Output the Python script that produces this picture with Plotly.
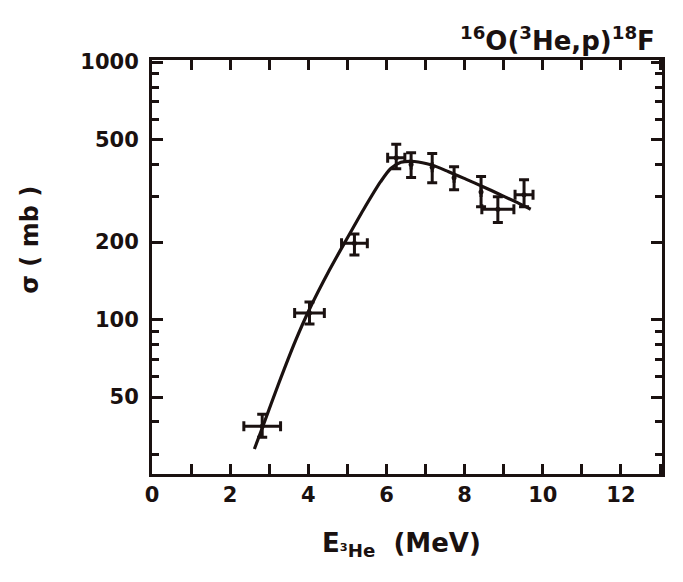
import plotly.graph_objects as go

# Data
energy = [2.82, 4.03, 5.18, 6.25, 6.63, 7.17, 7.73, 8.42, 8.85, 9.52]
sigma = [38.5, 106, 198, 425, 400, 390, 355, 313, 268, 305]
sigma_err_up = [4.4, 11, 17, 55, 44, 51, 37, 46, 32, 44]
sigma_err_down = [3.6, 10, 20, 40, 44, 50, 36, 39, 30, 31]
energy_err = [0.47, 0.38, 0.33, 0.22, 0, 0, 0, 0, 0.41, 0.23]

curve_energy = [2.62, 2.84, 3.23, 3.67, 4.02, 4.54, 4.98, 5.41, 5.85, 6.11, 6.37,
                6.72, 7.16, 7.59, 8.03, 8.47, 8.90, 9.34, 9.69]
curve_sigma = [31.4, 38.6, 55.8, 82.6, 108.9, 155.6, 205, 267, 343, 386, 408,
               411, 398, 375, 351, 328, 306, 285, 268]

x_tickvals = list(range(0, 14))
x_ticktext = [str(v) if v % 2 == 0 else "" for v in x_tickvals]
y_major = [50, 100, 200, 500, 1000]
y_minor = [30, 40, 60, 70, 80, 90, 300, 400, 600, 700, 800, 900]

FONT = "DejaVu Sans"
INK = "#1a1110"

fig = go.Figure()
fig.add_trace(go.Scatter(
    x=curve_energy, y=curve_sigma, mode="lines",
    line=dict(color=INK, width=3.2, shape="spline", smoothing=0.8),
    showlegend=False, hoverinfo="skip"))
fig.add_trace(go.Scatter(
    x=energy, y=sigma, mode="markers",
    marker=dict(color=INK, size=5),
    error_y=dict(type="data", symmetric=False, array=sigma_err_up,
                 arrayminus=sigma_err_down, color=INK, thickness=3, width=5),
    error_x=dict(type="data", array=energy_err, color=INK, thickness=3, width=5),
    showlegend=False))

fig.update_layout(
    width=675, height=574,
    margin=dict(l=144, r=21, t=52, b=108),
    paper_bgcolor="white", plot_bgcolor="white",
    font=dict(family=FONT, color=INK, weight="bold"),
    xaxis=dict(range=[0, 13.05], tickmode="array", tickvals=x_tickvals,
               ticktext=x_ticktext, ticks="inside", ticklen=10, tickwidth=2.5,
               tickcolor=INK, showline=True, linewidth=3, linecolor=INK,
               mirror="allticks", showgrid=False, zeroline=False,
               tickfont=dict(size=21, family=FONT, weight="bold")),
    yaxis=dict(type="log", range=[1.40, 3.008], tickmode="array",
               tickvals=y_major, ticktext=[str(v) for v in y_major],
               ticks="inside", ticklen=11, tickwidth=2.5, tickcolor=INK,
               minor=dict(tickmode="array", tickvals=y_minor, ticks="inside",
                          ticklen=7, tickwidth=2.5, tickcolor=INK),
               showline=True, linewidth=3, linecolor=INK, mirror="allticks",
               showgrid=False, zeroline=False, ticklabelstandoff=6,
               tickfont=dict(size=21, family=FONT, weight="bold")),
    annotations=[
        dict(text="<sup>16</sup>O(<sup>3</sup>He,p)<sup>18</sup>F",
             xref="paper", yref="paper", x=0.99, y=1.05,
             xanchor="right", yanchor="middle", showarrow=False,
             font=dict(size=26, family=FONT, color=INK, weight="bold")),
        dict(text="E<sub>³He</sub>  (MeV)",
             xref="paper", yref="paper", x=0.49, y=-0.17,
             xanchor="center", yanchor="middle", showarrow=False,
             font=dict(size=26, family=FONT, color=INK, weight="bold")),
        dict(text="σ ( mb )", textangle=-90,
             xref="paper", yref="paper", x=-0.24, y=0.565,
             xanchor="center", yanchor="middle", showarrow=False,
             font=dict(size=24, family=FONT, color=INK, weight="bold")),
    ],
)

fig.write_html("out.html")
